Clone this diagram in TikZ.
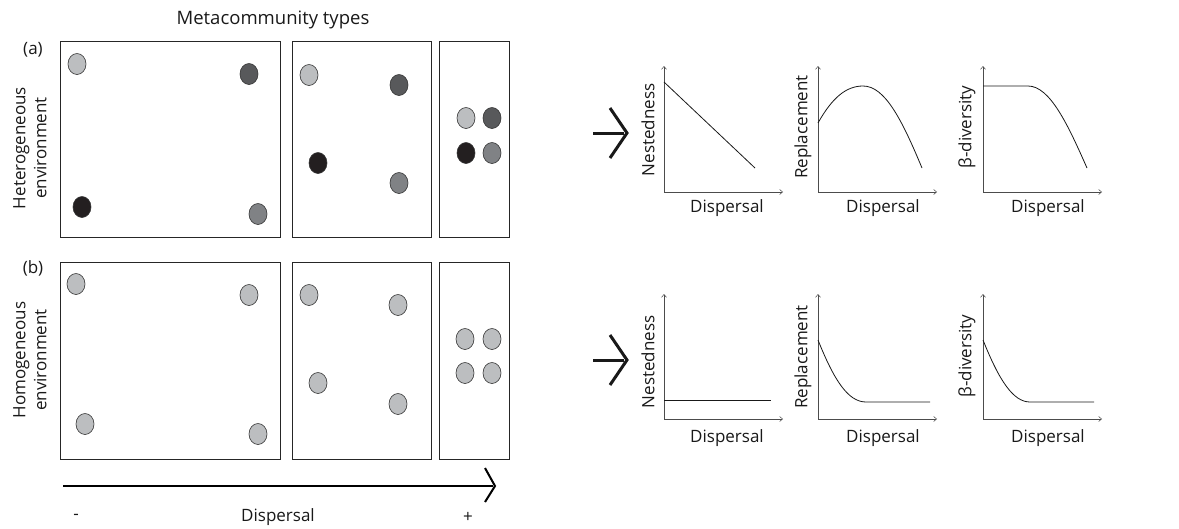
\documentclass[tikz,border=0pt]{standalone}
\usepackage{fontspec}
\setmainfont{Open Sans}
\usetikzlibrary{arrows.meta,shapes.geometric}
\definecolor{cLight}{HTML}{BCBEC0}
\definecolor{cDark}{HTML}{58595B}
\definecolor{cBlack}{HTML}{231F20}
\definecolor{cMid}{HTML}{808285}
\begin{document}
\begin{tikzpicture}[x=1pt,y=-1pt,
  panel/.style={draw=black!85,line width=0.9pt},
  sp/.style={draw=black!80,line width=0.6pt,ellipse,inner sep=0pt,minimum width=18pt,minimum height=21pt},
  lbl/.style={font=\fontsize{17}{21}\selectfont,inner sep=0pt,text=black!90},
  ax/.style={draw=black!70,line width=0.5pt,-{Straight Barb[length=3pt,width=5pt]}},
  crv/.style={draw=black!90,line width=0.8pt},
  chev/.style={draw=black!90,line width=3pt,line cap=butt,line join=miter}]
\useasboundingbox (0,0) rectangle (1179,528);
% titles
\node[lbl,font=\fontsize{18.5}{21}\selectfont] (title) at (273,20) {Metacommunity types};
\node[lbl] (la) at (33,50) {(a)};
\node[lbl] (lb) at (33,268) {(b)};
\node[lbl,rotate=90,align=center] (het) at (30,148) {Heterogeneous\\environment};
\node[lbl,rotate=90,align=center] (hom) at (30,360) {Homogeneous\\environment};
% panels top
\draw[panel] (60,41) rectangle (280,237);
\draw[panel] (292,41) rectangle (431,237);
\draw[panel] (439,41) rectangle (509,237);
% panels bottom
\draw[panel] (60,262) rectangle (280,459);
\draw[panel] (292,262) rectangle (431,459);
\draw[panel] (439,262) rectangle (509,459);
% species top
\node[sp,fill=cLight] (a1) at (77,64) {};
\node[sp,fill=cDark] (a2) at (249,74) {};
\node[sp,fill=cBlack] (a3) at (82,207) {};
\node[sp,fill=cMid] (a4) at (258,214) {};
\node[sp,fill=cLight] (a5) at (309,75) {};
\node[sp,fill=cDark] (a6) at (399,85) {};
\node[sp,fill=cBlack] (a7) at (318,163) {};
\node[sp,fill=cMid] (a8) at (399,183) {};
\node[sp,fill=cLight] (a9) at (466,118) {};
\node[sp,fill=cDark] (a10) at (492,118) {};
\node[sp,fill=cBlack] (a11) at (466,153) {};
\node[sp,fill=cMid] (a12) at (492,153) {};
% species bottom
\node[sp,fill=cLight] (b1) at (76,284) {};
\node[sp,fill=cLight] (b2) at (249,295) {};
\node[sp,fill=cLight] (b3) at (85,424) {};
\node[sp,fill=cLight] (b4) at (258,434) {};
\node[sp,fill=cLight] (b5) at (309,295) {};
\node[sp,fill=cLight] (b6) at (398,305) {};
\node[sp,fill=cLight] (b7) at (318,383) {};
\node[sp,fill=cLight] (b8) at (398,404) {};
\node[sp,fill=cLight] (b9) at (465,339) {};
\node[sp,fill=cLight] (b10) at (492,339) {};
\node[sp,fill=cLight] (b11) at (465,373) {};
\node[sp,fill=cLight] (b12) at (492,373) {};
% dispersal axis
\coordinate (d0) at (63,486);
\coordinate (d1) at (495,486);
\draw[line width=2pt] (d0) -- (493,486);
\draw[line width=2pt,line join=miter] (485,468) -- (d1) -- (485,502);
\node[lbl] (minus) at (76,517) {-};
\node[lbl] (disp) at (278,517) {Dispersal};
\node[lbl] (plus) at (468,517) {+};
% result arrows
\coordinate (ra0) at (593,133);
\coordinate (ra1) at (627,133);
\draw[chev] (ra0) -- (624,133);
\draw[chev] (610,108) -- (ra1) -- (610,158);
\coordinate (rb0) at (593,360);
\coordinate (rb1) at (627,360);
\draw[chev] (rb0) -- (624,360);
\draw[chev] (610,335) -- (rb1) -- (610,385);
% ---- top plots
\foreach \ox/\nm in {664/p1,818/p2,983/p3}{
  \coordinate (\nm o) at (\ox,192);
  \draw[ax] (\nm o) -- ++(0,-126);
  \draw[ax] (\nm o) -- ++(119,0);
}
\node[lbl,rotate=90] (n1) at (648,130) {Nestedness};
\node[lbl,rotate=90] (n2) at (803,127) {Replacement};
\node[lbl,rotate=90] (n3) at (967,127) {β-diversity};
\node[lbl] (x1) at (727,208) {Dispersal};
\node[lbl] (x2) at (883,208) {Dispersal};
\node[lbl] (x3) at (1048,208) {Dispersal};
\draw[crv] (664,82) -- (755,168);
\draw[crv] (818,123) .. controls (832,98) and (846,86) .. (863,86) .. controls (885,86) and (902,120) .. (922,168);
\draw[crv] (983,86) -- (1028,86) .. controls (1050,86) and (1068,125) .. (1087,168);
% ---- bottom plots
\foreach \ox/\nm in {664/q1,818/q2,983/q3}{
  \coordinate (\nm o) at (\ox,419);
  \draw[ax] (\nm o) -- ++(0,-125);
  \draw[ax] (\nm o) -- ++(119,0);
}
\node[lbl,rotate=90] (m1) at (648,362) {Nestedness};
\node[lbl,rotate=90] (m2) at (803,357) {Replacement};
\node[lbl,rotate=90] (m3) at (967,356) {β-diversity};
\node[lbl] (y1) at (727,438) {Dispersal};
\node[lbl] (y2) at (883,438) {Dispersal};
\node[lbl] (y3) at (1048,438) {Dispersal};
\draw[crv] (664,400) -- (771,400);
\draw[crv] (818,340) .. controls (834,380) and (848,402) .. (866,402) -- (930,402);
\draw[crv] (983,340) .. controls (999,380) and (1013,402) .. (1030,402) -- (1094,402);
\end{tikzpicture}
\end{document}
